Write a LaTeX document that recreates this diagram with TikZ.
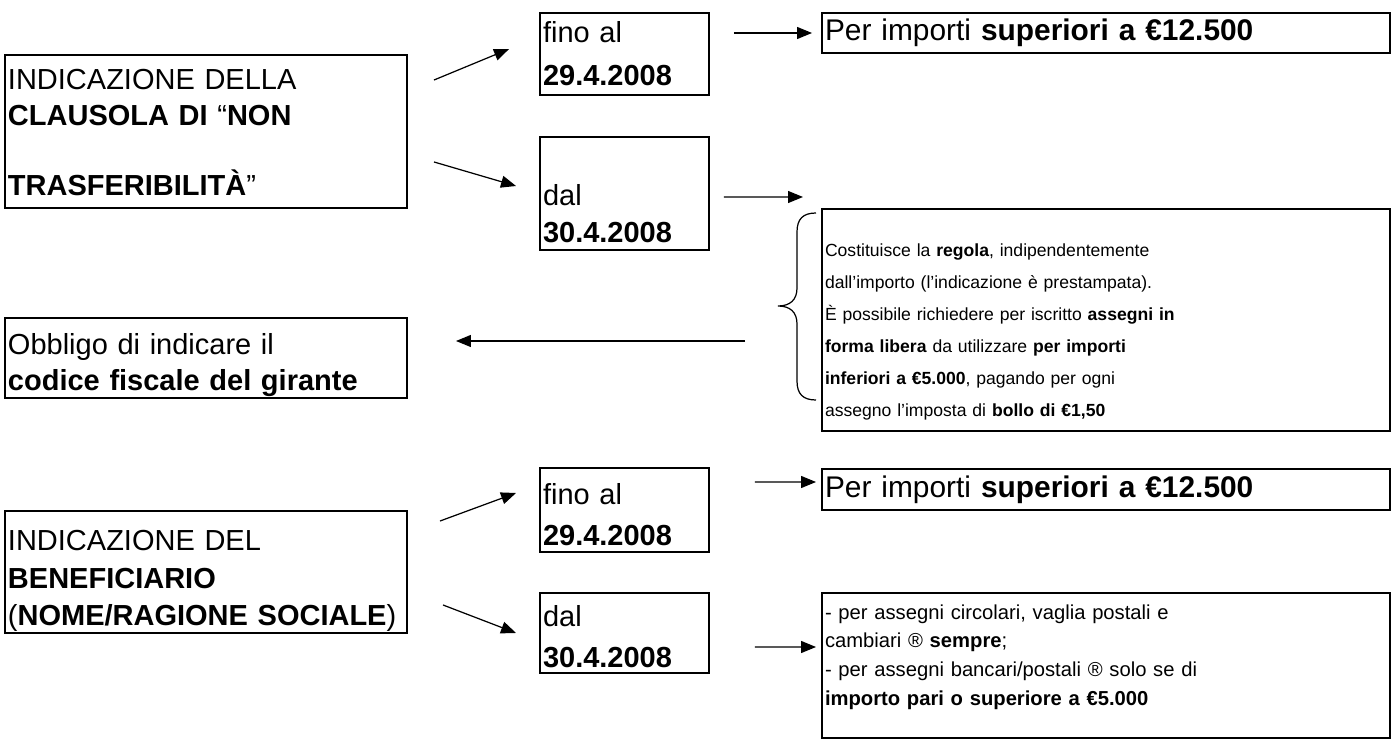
\documentclass[tikz,border=0pt]{standalone}
\usepackage{fontspec}
\setmainfont{Liberation Sans}
\usetikzlibrary{arrows.meta}

\begin{document}
\begin{tikzpicture}[x=1cm,y=1cm,
  box/.style={draw, line width=1.1pt, inner xsep=0.06cm, inner ysep=0pt, align=left},
  big/.style={font=\fontsize{16.5}{20}\selectfont},
  datebox/.style={box, font=\fontsize{16.5}{23.3}\selectfont, text width=3.26cm},
  arr/.style={line width=0.7pt, -{Triangle[length=0.3cm,width=0.24cm]}}]
\useasboundingbox (0,0) rectangle (27.88,14.80);
% left column
\node[box, big, text width=7.92cm, minimum height=3.06cm] (clausola) at (4.12,12.17) {\rule{0pt}{0.45cm}INDICAZIONE DELLA\\\textbf{CLAUSOLA DI} “\textbf{NON}\\\mbox{}\\\textbf{TRASFERIBILITÀ}”};
\node[box, big, text width=7.92cm, minimum height=1.60cm] (obbligo) at (4.12,7.64) {\rule{0pt}{0.70cm}Obbligo di indicare il\\\textbf{codice fiscale del girante}};
\node[box, font=\fontsize{16.5}{21.6}\selectfont, text width=7.92cm, minimum height=2.44cm] (benef) at (4.12,3.36) {\rule{0pt}{0.76cm}INDICAZIONE DEL\\\textbf{BENEFICIARIO}\\(\textbf{NOME/RAGIONE SOCIALE})};
% dates
\node[datebox, font=\fontsize{16.5}{24.5}\selectfont, minimum height=1.64cm] (fino1) at (12.49,13.72) {fino al\\\textbf{29.4.2008}};
\node[datebox, font=\fontsize{16.5}{21}\selectfont, minimum height=2.26cm] (dal1) at (12.49,10.93) {\rule{0pt}{1.22cm}dal\\\textbf{30.4.2008}};
\node[datebox, minimum height=1.68cm] (fino2) at (12.49,4.60) {\rule{0pt}{0.62cm}fino al\\\textbf{29.4.2008}};
\node[datebox, minimum height=1.60cm] (dal2) at (12.49,2.14) {\rule{0pt}{0.58cm}dal\\\textbf{30.4.2008}};
% right column
\node[box, font=\fontsize{17}{20}\selectfont, text width=11.24cm, minimum height=0.80cm] (per1) at (22.12,14.14) {Per importi \textbf{superiori a €12.500}};
\node[box, font=\fontsize{10}{18.2}\selectfont, text width=11.24cm, minimum height=4.44cm] (regola) at (22.12,8.40) {\rule{0pt}{0.73cm}Costituisce la \textbf{regola}, indipendentemente\\
dall’importo (l’indicazione è prestampata).\\
È possibile richiedere per iscritto \textbf{assegni in}\\
\textbf{forma libera} da utilizzare \textbf{per importi}\\
\textbf{inferiori a €5.000}, pagando per ogni\\
assegno l’imposta di \textbf{bollo di €1,50}};
\node[box, font=\fontsize{17}{20}\selectfont, text width=11.24cm, minimum height=0.82cm] (per2) at (22.12,5.01) {Per importi \textbf{superiori a €12.500}};
\node[box, font=\fontsize{11.5}{16.3}\selectfont, text width=11.24cm, minimum height=2.90cm] (assegni) at (22.12,1.49) {- per assegni circolari, vaglia postali e\\
cambiari ® \textbf{sempre};\\
- per assegni bancari/postali ® solo se di\\
\textbf{importo pari o superiore a €5.000}\rule[-0.43cm]{0pt}{0.43cm}};
% free ends
\coordinate (dalend) at (16.06,10.86);
\coordinate (bracefoot) at (14.90,7.98);
% brace
\draw[line width=0.7pt] (16.32,10.54) .. controls (16.06,10.54) and (15.94,10.42) .. (15.94,10.16) -- (15.94,9.04)
  .. controls (15.94,8.80) and (15.80,8.68) .. (15.56,8.68)
  .. controls (15.80,8.68) and (15.94,8.56) .. (15.94,8.32) -- (15.94,7.18)
  .. controls (15.94,6.92) and (16.06,6.80) .. (16.32,6.80);
% arrows
\draw[arr] ([shift={(0.52,-0.52)}]clausola.north east) -- ([shift={(-0.60,0.10)}]fino1.west);
\draw[arr] ([shift={(0.52,0.94)}]clausola.south east) -- ([shift={(-0.46,0.15)}]dal1.west);
\draw[arr] ([shift={(0.48,0.42)}]fino1.east) -- ([xshift=-0.18cm]per1.west);
\draw[arr] ([shift={(0.28,-0.07)}]dal1.east) -- (dalend);
\draw[arr] (bracefoot) -- ([shift={(0.96,0.34)}]obbligo.east);
\draw[arr] ([shift={(0.64,-0.22)}]benef.north east) -- ([shift={(-0.46,0.34)}]fino2.west);
\draw[arr] ([shift={(0.70,0.58)}]benef.south east) -- ([xshift=-0.46cm]dal2.west);
\draw[arr] ([shift={(0.90,0.56)}]fino2.east) -- ([shift={(-0.10,0.15)}]per2.west);
\draw[arr] ([shift={(0.90,-0.28)}]dal2.east) -- ([shift={(-0.10,0.37)}]assegni.west);
\end{tikzpicture}
\end{document}
